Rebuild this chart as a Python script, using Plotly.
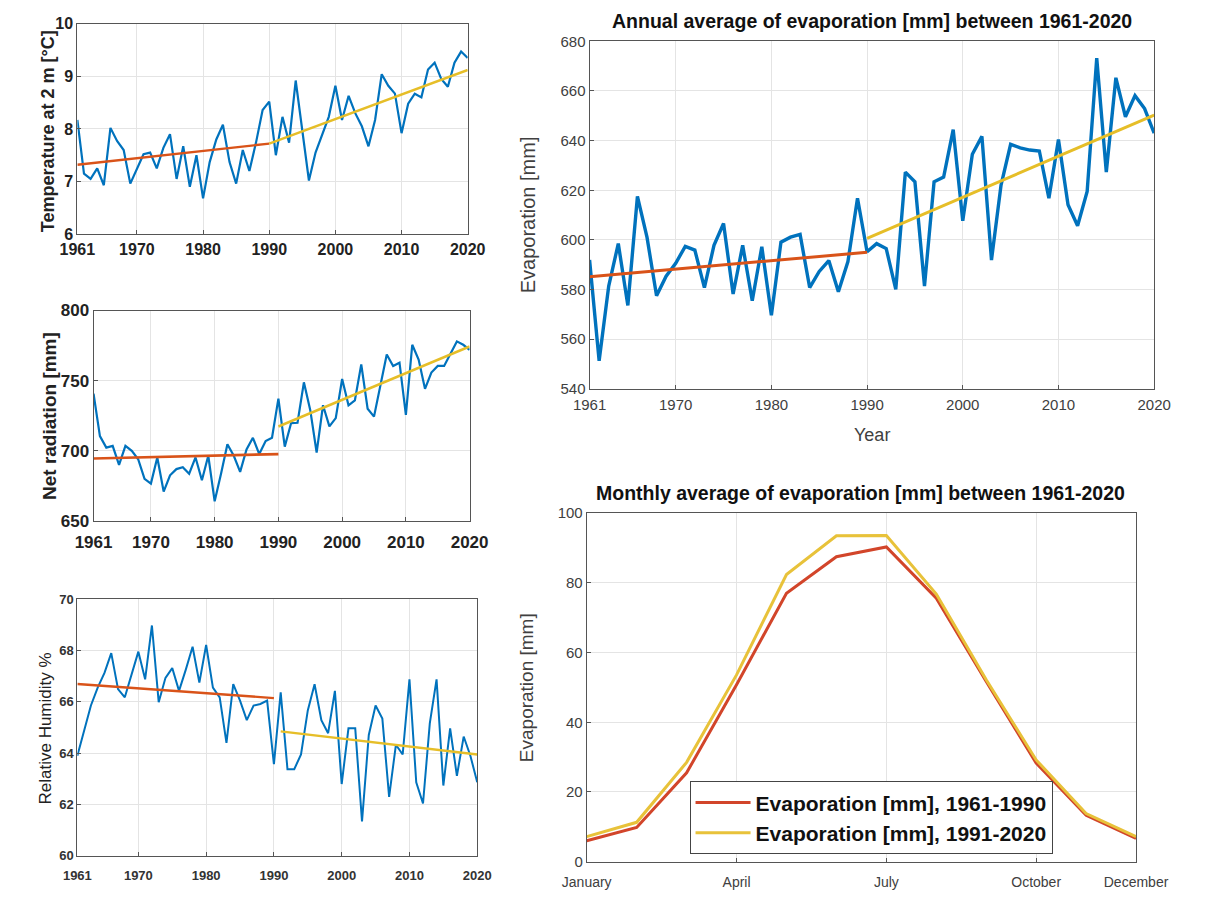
import plotly.graph_objects as go

W, H = 1210, 904

# ---------------- data ----------------
years = list(range(1961, 2021))

temperature = [8.17, 7.15, 7.05, 7.25, 6.93, 8.02, 7.77, 7.60, 6.96, 7.25,
               7.52, 7.55, 7.25, 7.64, 7.90, 7.05, 7.67, 6.90, 7.50, 6.68,
               7.37, 7.80, 8.08, 7.37, 6.96, 7.60, 7.20, 7.74, 8.36, 8.52,
               7.50, 8.23, 7.74, 8.92, 7.98, 7.02, 7.55, 7.90, 8.23, 8.82,
               8.17, 8.63, 8.30, 8.05, 7.67, 8.17, 9.04, 8.82, 8.67, 7.92,
               8.48, 8.67, 8.60, 9.13, 9.26, 8.95, 8.80, 9.26, 9.47, 9.35]

net_radiation = [740.7, 710.5, 702.3, 703.5, 690.0, 703.5, 700.0, 694.0, 680.0, 676.7,
                 695.3, 671.0, 682.6, 687.0, 688.4, 683.7, 695.3, 679.0, 696.5, 664.0,
                 683.7, 704.7, 696.5, 685.0, 701.0, 709.3, 697.7, 707.0, 709.3, 737.2,
                 703.0, 719.8, 720.0, 748.8, 729.0, 698.8, 732.5, 717.4, 723.3, 751.2,
                 732.5, 736.0, 761.6, 730.0, 724.4, 746.5, 768.6, 760.5, 762.8, 725.6,
                 775.6, 765.0, 744.2, 755.8, 760.5, 760.5, 769.8, 778.0, 775.6, 772.0]

humidity = [63.90, 64.90, 65.86, 66.56, 67.13, 67.90, 66.50, 66.18, 67.07, 67.96,
            66.88, 68.98, 65.99, 66.94, 67.32, 66.43, 67.26, 68.15, 66.75, 68.22,
            66.56, 66.18, 64.40, 66.69, 66.05, 65.29, 65.86, 65.92, 66.05, 63.57,
            66.37, 63.38, 63.38, 63.95, 65.67, 66.69, 65.29, 64.78, 66.43, 62.80,
            64.97, 64.97, 61.34, 64.71, 65.86, 65.35, 62.30, 64.33, 63.95, 66.88,
            62.87, 62.04, 65.16, 66.88, 62.74, 64.97, 63.12, 64.65, 63.89, 62.87]

evaporation = [591.9, 551.3, 581.4, 598.5, 573.6, 617.5, 601.1, 577.5, 585.4, 590.6,
               597.4, 595.9, 580.8, 597.8, 606.6, 578.2, 597.8, 575.5, 597.2, 569.6,
               599.1, 601.1, 602.2, 580.8, 587.3, 591.7, 579.1, 591.3, 616.8, 595.2,
               598.5, 596.5, 580.1, 627.3, 623.4, 581.4, 623.4, 625.3, 644.4, 607.7,
               634.5, 641.7, 591.9, 622.1, 638.5, 637.1, 636.2, 635.8, 616.8, 640.4,
               614.2, 605.7, 619.5, 673.2, 627.3, 665.3, 649.6, 658.1, 652.9, 643.0]

# trend-line end points
trend_years_1 = [1961, 1990]
trend_years_2 = [1990, 2020]
temp_trend_1 = [7.32, 7.72]
temp_trend_2 = [7.72, 9.12]
rad_trend_1 = [694.5, 697.7]
rad_trend_2 = [717.4, 774.4]
hum_trend_years_2 = [1991, 2020]
hum_trend_1 = [66.70, 66.15]
hum_trend_2 = [64.85, 63.95]
evap_trend_1 = [585.2, 595.0]
evap_trend_2 = [600.6, 650.3]

months = list(range(1, 13))
month_tick_vals = [1, 4, 7, 10, 12]
month_tick_text = ["January", "April", "July", "October", "December"]
evap_1961_1990 = [6.0, 9.8, 25.5, 50.8, 77.0, 87.5, 90.3, 75.6, 51.7, 28.3, 13.3, 6.7]
evap_1991_2020 = [7.2, 11.3, 28.5, 53.6, 82.4, 93.5, 93.6, 76.8, 52.2, 29.2, 13.8, 7.2]

year_ticks = [1961, 1970, 1980, 1990, 2000, 2010, 2020]

BLUE = "#0072BD"
RED = "#D95319"
YEL = "#E6BE28"
MRED = "#D2452A"
MYEL = "#E8C23A"
FONT = "Liberation Sans, Arial, sans-serif"


def xd(a, b):
    return [a / W, b / W]


def yd(top, bottom):
    return [1 - bottom / H, 1 - top / H]


fig = go.Figure()

panels = [
    ("", temperature, temp_trend_1, temp_trend_2, trend_years_2, 2.2, 2.4),
    ("2", net_radiation, rad_trend_1, rad_trend_2, trend_years_2, 2.2, 2.6),
    ("3", humidity, hum_trend_1, hum_trend_2, hum_trend_years_2, 2.0, 2.4),
    ("4", evaporation, evap_trend_1, evap_trend_2, trend_years_2, 3.4, 3.0),
]
for pid, series, t1, t2, ty2, lw, tw in panels:
    xa, ya = "x" + pid, "y" + pid
    fig.add_trace(go.Scatter(x=years, y=series, mode="lines", xaxis=xa, yaxis=ya,
                             line=dict(color=BLUE, width=lw), showlegend=False))
    fig.add_trace(go.Scatter(x=trend_years_1, y=t1, mode="lines", xaxis=xa, yaxis=ya,
                             line=dict(color=RED, width=tw), showlegend=False))
    fig.add_trace(go.Scatter(x=ty2, y=t2, mode="lines", xaxis=xa, yaxis=ya,
                             line=dict(color=YEL, width=tw), showlegend=False))

fig.add_trace(go.Scatter(x=months, y=evap_1961_1990, mode="lines", xaxis="x5", yaxis="y5",
                         name="Evaporation [mm], 1961-1990",
                         line=dict(color=MRED, width=3)))
fig.add_trace(go.Scatter(x=months, y=evap_1991_2020, mode="lines", xaxis="x5", yaxis="y5",
                         name="Evaporation [mm], 1991-2020",
                         line=dict(color=MYEL, width=3)))

common = dict(showline=True, mirror=True, linecolor="#555555", linewidth=1,
              ticks="inside", ticklen=4, tickcolor="#555555",
              showgrid=True, gridcolor="#e4e4e4", gridwidth=1, zeroline=False)


def tf(size, bold, color="#222222"):
    return dict(family=FONT, size=size, color=color, weight="bold" if bold else "normal")


layout = dict(
    width=W, height=H, margin=dict(l=0, r=0, t=0, b=0),
    paper_bgcolor="white", plot_bgcolor="white",
    font=dict(family=FONT),
    # top-left: temperature
    xaxis=dict(domain=xd(55, 465), range=[1961, 2020], tickvals=year_ticks,
               tickfont=tf(16, True), anchor="y", ticklabelstandoff=1, **common),
    yaxis=dict(domain=yd(15, 230), range=[6, 10], tickvals=[6, 7, 8, 9, 10],
               tickfont=tf(16, True), anchor="x", **common),
    # middle-left: net radiation
    xaxis2=dict(domain=xd(72, 467), range=[1961, 2020], tickvals=year_ticks,
                tickfont=tf(17, True), anchor="y2", ticklabelstandoff=6, **common),
    yaxis2=dict(domain=yd(308, 523), range=[650, 800], tickvals=[650, 700, 750, 800],
                tickfont=tf(17, True), anchor="x2", **common),
    # bottom-left: humidity
    xaxis3=dict(domain=xd(55, 475), range=[1961, 2020], tickvals=year_ticks,
                tickfont=tf(13, True, "#333333"), anchor="y3", ticklabelstandoff=8, **common),
    yaxis3=dict(domain=yd(603, 865), range=[60, 70], tickvals=[60, 62, 64, 66, 68, 70],
                tickfont=tf(13, True, "#333333"), anchor="x3", **common),
    # top-right: annual evaporation
    xaxis4=dict(domain=xd(593, 1186), range=[1961, 2020], tickvals=year_ticks,
                tickfont=tf(15, False, "#404040"), anchor="y4", ticklabelstandoff=2, **common),
    yaxis4=dict(domain=yd(33, 388), range=[540, 680], tickvals=list(range(540, 681, 20)),
                tickfont=tf(15, False, "#404040"), anchor="x4", **common),
    # bottom-right: monthly evaporation
    xaxis5=dict(domain=xd(590, 1167), range=[1, 12], tickvals=month_tick_vals,
                ticktext=month_tick_text, tickfont=tf(14, False, "#404040"),
                anchor="y5", ticklabelstandoff=8, **common),
    yaxis5=dict(domain=yd(515, 871), range=[0, 100], tickvals=[0, 20, 40, 60, 80, 100],
                tickfont=tf(15, False, "#404040"), anchor="x5", **common),
    legend=dict(x=698 / W, y=1 - 789 / H, xanchor="left", yanchor="top",
                bgcolor="white", bordercolor="#444444", borderwidth=1,
                font=dict(family=FONT, size=21, color="#111111", weight="bold"),
                itemwidth=55, tracegroupgap=0),
    showlegend=True,
)
fig.update_layout(**layout)


def ann(text, x, y, size, bold=False, angle=0, color="#222222"):
    fig.add_annotation(text=text, x=x / W, y=1 - y / H, xref="paper", yref="paper",
                       showarrow=False, textangle=angle, xanchor="center", yanchor="middle",
                       font=dict(family=FONT, size=size, color=color,
                                 weight="bold" if bold else "normal"))


ann("Temperature at 2 m [°C]", 25, 125, 18, True, -90)
ann("Net radiation [mm]", 26, 416, 19, True, -90)
ann("Relative Humidity %", 22, 735, 17, False, -90, "#222222")
ann("Evaporation [mm]", 528, 210, 20, False, -90, "#404040")
ann("Evaporation [mm]", 527, 693, 19, False, -90, "#404040")
ann("Year", 890, 435, 18, False, 0, "#404040")
ann("Annual average of evaporation [mm] between 1961-2020", 890, 12, 19.5, True, 0, "#111111")
ann("Monthly average of evaporation [mm] between 1961-2020", 878, 494, 19.5, True, 0, "#111111")

fig.write_html("out.html")
